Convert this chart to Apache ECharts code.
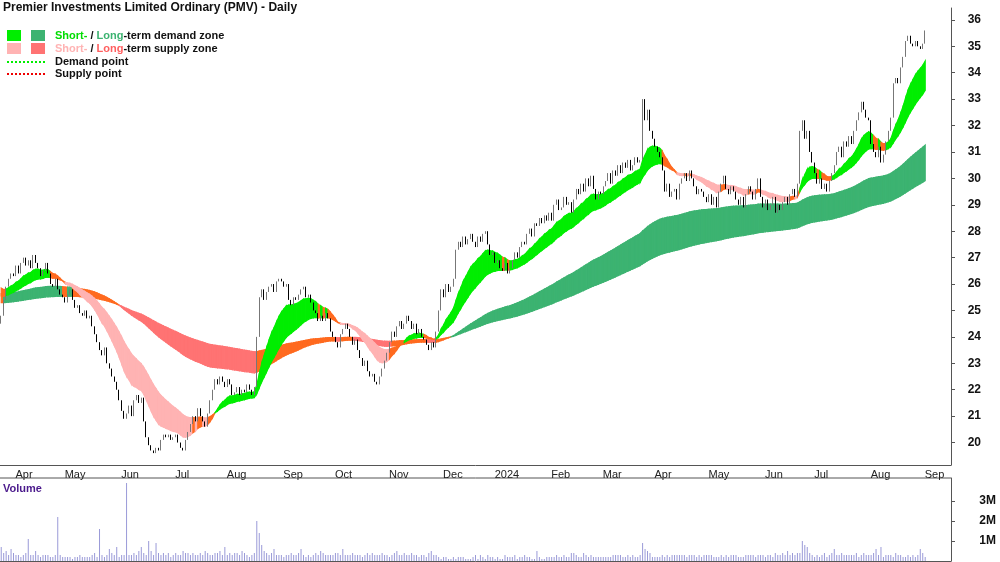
<!DOCTYPE html>
<html><head><meta charset="utf-8">
<script src="https://cdn.jsdelivr.net/npm/echarts@6/dist/echarts.min.js"></script>
<style>html,body{margin:0;padding:0;background:#fff}#c{width:1000px;height:562px}</style>
</head><body><div id="c"></div>
<script>
// Daily closes, month by month (Mar 27 2023 .. Sep 3 2024)
const closeMar23=[24.8,25.4,25.9,26.2,26.4];
const closeApr23=[26.3,26.7,26.4,26.8,27.0,26.7,26.9,26.6,27.1,26.8,26.6,26.3,26.5,26.8,26.4,26.0,25.9,26.2,25.8,25.6];
const closeMay23=[25.5,25.3,25.6,25.8,25.4,25.1,25.2,24.9,24.8,25.0,24.7,24.8,24.4,24.1,23.8,23.5,23.3,23.6,23.0,22.8,22.5,22.3,22.0];
const closeJun23=[21.6,21.2,20.9,21.1,21.4,21.0,21.6,21.8,21.5,21.7,20.8,20.2,19.9,19.7,19.6,19.8,19.7,20.1,20.3,20.2,20.3,20.1];
const closeJul23=[20.2,20.3,20.0,19.8,19.7,20.1,20.4,20.7,21.0,20.8,21.3,21.0,20.8,20.6,21.1,21.6,22.0,22.4,22.2,22.5,22.3];
const closeAug23=[22.1,22.4,22.2,21.8,21.9,22.1,21.8,22.0,21.9,22.2,22.0,21.8,22.1,24.0,25.5,25.8,25.4,25.7,25.9,26.0,25.7,26.1,26.2];
const closeSep23=[26.1,25.9,26.0,25.4,25.2,25.5,25.4,25.6,25.8,25.9,25.5,25.6,25.3,25.0,24.9,24.6,24.8,24.6,24.9,24.7,24.2];
const closeOct23=[24.0,23.8,23.6,24.1,24.3,24.5,24.3,24.0,23.7,23.9,23.5,23.2,22.9,23.1,22.7,22.5,22.6,22.3,22.2,22.5,22.8,23.1];
const closeNov23=[23.4,23.8,24.2,24.0,24.4,24.6,24.3,24.5,24.8,24.6,24.3,24.5,24.1,24.3,24.0,23.9,23.7,23.5,23.8,23.6,24.2,25.0];
const closeDec23=[25.8,25.5,26.0,25.7,25.9,26.2,27.3,27.6,27.4,27.8,27.5,27.7,27.9,27.6,27.4,27.8,27.6,27.9,28.0,27.5,27.1];
const closeJan24=[27.2,26.8,26.9,26.6,26.5,26.8,26.4,26.6,26.9,27.2,27.0,27.4,27.6,27.5,27.9,28.1,27.8,28.3,28.2,28.5,28.3,28.6,28.4];
const closeFeb24=[28.7,28.4,29.0,29.2,28.8,28.9,29.3,29.0,29.1,28.7,29.2,29.6,29.4,29.8,29.5,30.0,29.7,30.1,29.6,29.2,29.5];
const closeMar24=[29.4,29.7,29.9,30.2,29.8,30.3,30.1,30.5,30.2,30.6,30.4,30.7,30.3,30.5,30.8,30.6,30.7,33.0,32.2,32.6,31.8];
const closeApr24=[31.5,31.2,31.0,30.8,30.3,29.5,29.8,29.3,29.5,29.6,29.2,29.8,30.0,30.2,29.9,30.3,30.0,29.7,29.4,29.6,29.5,29.3];
const closeMay24=[29.1,29.4,29.0,29.3,28.9,29.5,29.8,30.1,29.6,29.4,29.7,29.5,29.2,29.0,29.3,28.9,29.4,29.7,29.5,29.2,29.6,30.0,29.3];
const closeJun24=[28.9,29.2,28.8,29.0,29.3,28.7,29.0,28.8,29.1,29.3,29.0,29.4,29.6,29.3,29.8,31.8,32.2,31.5,31.8,31.0];
const closeJul24=[30.6,30.2,29.8,30.0,29.6,29.8,29.5,29.9,30.2,30.5,31.0,31.2,30.8,31.4,31.2,31.6,31.3,31.8,32.2,32.5,32.9,32.6,32.3];
const closeAug24=[32.2,31.3,31.0,30.8,31.2,30.6,30.9,31.4,31.8,32.3,33.6,33.8,33.6,34.2,34.6,35.2,35.4,35.1,35.0,35.2,35.0,34.9];
const closeSep24=[35.1,35.6];
// Volume in units of 100,000 shares
const volume=[7,4,5,3,6,
4,3,3,2,3,4,11,3,3,5,3,2,3,3,3,2,2,3,22,3,
2,2,2,2,1,2,2,3,2,2,2,2,3,4,2,16,3,2,3,6,4,3,7,
2,3,3,39,3,3,4,3,5,7,4,3,10,5,3,9,4,3,4,3,4,2,
3,4,3,3,5,4,4,3,4,3,3,4,3,5,4,3,3,4,4,5,3,
7,3,4,3,4,4,3,5,4,3,2,3,4,20,14,8,5,4,3,4,6,3,3,
3,2,3,3,4,3,3,4,6,3,2,3,2,3,4,3,5,4,3,3,3,
3,4,4,3,6,3,3,3,4,3,3,3,2,3,4,3,4,3,3,3,4,3,
3,2,3,4,5,3,3,4,3,3,4,3,3,2,3,3,2,4,5,3,3,2,
1,2,2,1,1,2,1,2,2,2,1,1,1,2,3,1,3,2,1,3,2,
2,1,2,1,1,3,2,2,2,3,1,2,2,3,2,2,1,1,5,2,1,1,2,
2,2,2,3,2,2,3,2,2,4,4,3,2,2,4,3,2,3,2,2,2,
2,2,2,2,2,3,3,3,3,2,2,3,2,3,2,2,3,9,6,5,4,
2,2,2,2,3,2,3,2,3,3,3,3,3,3,2,3,3,3,2,3,2,3,
3,3,3,2,2,2,3,2,3,2,3,3,3,2,2,2,3,3,3,3,2,3,3,
3,2,3,3,2,4,3,3,4,3,5,3,4,3,4,4,10,8,7,4,
3,2,3,2,3,4,2,3,4,6,3,3,4,3,3,3,3,3,4,2,3,4,3,
3,3,4,6,3,7,2,3,3,3,2,4,3,3,2,2,3,2,3,2,3,6,
4,2];
const priceTicks=[20,21,22,23,24,25,26,27,28,29,30,31,32,33,34,35,36];
const volTicks=[1e6,2e6,3e6];
const monthNames=['Jan','Feb','Mar','Apr','May','Jun','Jul','Aug','Sep','Oct','Nov','Dec'];

const closes=[].concat(closeMar23,closeApr23,closeMay23,closeJun23,closeJul23,closeAug23,closeSep23,closeOct23,closeNov23,closeDec23,closeJan24,closeFeb24,closeMar24,closeApr24,closeMay24,closeJun24,closeJul24,closeAug24,closeSep24);
const N=closes.length;
const dates=[];const monthOf=[];const yearOf=[];
{let d=new Date(Date.UTC(2023,2,27));while(dates.length<N){const w=d.getUTCDay();if(w>0&&w<6){dates.push(d.toISOString().slice(0,10));monthOf.push(d.getUTCMonth());yearOf.push(d.getUTCFullYear());}d=new Date(d.getTime()+86400000);}}
const isMonthStart=i=>i>0&&monthOf[i]!==monthOf[i-1];
const ohlc=closes.map((c,i)=>{const o=i?closes[i-1]:c-0.3;return [o,c,Math.min(o,c),Math.max(o,c)];});
const vols=dates.map((_,i)=>(volume[i]||2)*1e5);
function ema(arr,n,seed){const k=2/(n+1);let e=seed;return arr.map(v=>(e=e+(v-e)*k));}
function band(fast,slow){
  const out=[];
  for(let i=0;i<N-1;i++){
    const lo=Math.min(fast[i],slow[i]),hi=Math.max(fast[i],slow[i]);
    const lo2=Math.min(fast[i+1],slow[i+1]),hi2=Math.max(fast[i+1],slow[i+1]);
    let st;
    if(fast[i]>=slow[i]) st=closes[i]>=lo?'d':'n'; else st=closes[i]<=hi?'s':'n';
    out.push([i,lo,hi,lo2,hi2,st]);
  }
  return out;
}
const sF=ema(closes,15,26.0),sS=ema(closes,32,25.6);
const lF=ema(closes,105,25.65),lS=ema(closes,190,25.3);
const shortBand=band(sF,sS),longBand=band(lF,lS);
const colors={short:{d:'#00ee00',s:'#ffb3b3',n:'#ff6a1f'},long:{d:'#3cb371',s:'#ff7373',n:'#ff6a1f'}};
function bandSeries(data,pal,z){
  return {type:'custom',xAxisIndex:0,yAxisIndex:0,data:data,encode:{x:0,y:[1,2]},silent:true,z:z,
    renderItem:(p,api)=>{
      const i=api.value(0);
      const a=api.coord([i,api.value(1)]),b=api.coord([i+1,api.value(3)]),c=api.coord([i+1,api.value(4)]),d=api.coord([i,api.value(2)]);
      const st=data[p.dataIndex][5];
      return {type:'polygon',shape:{points:[a,b,c,d]},style:{fill:pal[st],stroke:pal[st],lineWidth:1.2}};
    }};
}
const labelFn=(v,i)=>{const m=monthOf[i];return m===0?String(yearOf[i]):monthNames[m];};
const chart=echarts.init(document.getElementById('c'));
chart.setOption({
  animation:false,
  textStyle:{fontFamily:'Liberation Sans, Arial, sans-serif'},
  grid:[{left:0,right:49,top:8,bottom:97},{left:0,right:49,top:478,bottom:1}],
  xAxis:[
    {type:'category',data:dates,gridIndex:0,boundaryGap:true,max:N+9,
     axisLine:{lineStyle:{color:'#555'}},axisTick:{interval:(i)=>isMonthStart(i),length:4,lineStyle:{color:'#555'}},
     axisLabel:{interval:(i)=>isMonthStart(i),formatter:labelFn,align:'left',padding:[0,0,0,2],color:'#222',fontSize:11,margin:4},
     splitLine:{show:false}},
    {type:'category',data:dates,gridIndex:1,boundaryGap:true,max:N+9,axisLine:{lineStyle:{color:'#555'}},axisTick:{show:false},axisLabel:{show:false}}
  ],
  yAxis:[
    {type:'value',gridIndex:0,position:'right',min:19.15,max:36.45,splitLine:{show:false},
     axisLine:{show:true,lineStyle:{color:'#555'}},axisTick:{show:true,customValues:priceTicks,length:4,lineStyle:{color:'#555'}},
     axisLabel:{customValues:priceTicks,color:'#111',fontWeight:'bold',fontSize:12,margin:30,align:'right'}},
    {type:'value',gridIndex:1,position:'right',min:0,max:4.15e6,splitLine:{show:false},
     axisLine:{show:true,lineStyle:{color:'#555'}},axisTick:{show:true,customValues:volTicks,length:4,lineStyle:{color:'#555'}},
     axisLabel:{customValues:volTicks,formatter:v=>(v/1e6)+'M',color:'#111',fontWeight:'bold',fontSize:12,margin:45,align:'right'}}
  ],
  graphic:[
    {type:'line',shape:{x1:0,y1:478,x2:951,y2:478},style:{stroke:'#555',lineWidth:1}},
    {type:'text',left:3,top:2,style:{text:'Premier Investments Limited Ordinary (PMV) - Daily',font:'bold 12px Liberation Sans, Arial',fill:'#111'}},
    {type:'rect',shape:{x:7,y:30,width:14,height:11},style:{fill:'#00ee00'}},
    {type:'rect',shape:{x:31,y:30,width:14,height:11},style:{fill:'#3cb371'}},
    {type:'rect',shape:{x:7,y:43,width:14,height:11},style:{fill:'#ffb3b3'}},
    {type:'rect',shape:{x:31,y:43,width:14,height:11},style:{fill:'#ff7373'}},
    {type:'line',shape:{x1:7,y1:62,x2:45,y2:62},style:{stroke:'#00ee00',lineWidth:2,lineDash:[2,2]}},
    {type:'line',shape:{x1:7,y1:74,x2:45,y2:74},style:{stroke:'#ee0000',lineWidth:2,lineDash:[2,2]}},
    {type:'text',x:55,y:30,style:{text:'{g|Short-}{k| / }{dg|Long}{k|-term demand zone}',font:'bold 11px Liberation Sans, Arial',rich:{g:{fill:'#00dd00',font:'bold 11px Liberation Sans, Arial'},dg:{fill:'#3cb371',font:'bold 11px Liberation Sans, Arial'},k:{fill:'#111',font:'bold 11px Liberation Sans, Arial'}}}},
    {type:'text',x:55,y:43,style:{text:'{p|Short-}{k| / }{r|Long}{k|-term supply zone}',font:'bold 11px Liberation Sans, Arial',rich:{p:{fill:'#ffb3b3',font:'bold 11px Liberation Sans, Arial'},r:{fill:'#ff6060',font:'bold 11px Liberation Sans, Arial'},k:{fill:'#111',font:'bold 11px Liberation Sans, Arial'}}}},
    {type:'text',x:55,y:56,style:{text:'Demand point',font:'bold 11px Liberation Sans, Arial',fill:'#111'}},
    {type:'text',x:55,y:68,style:{text:'Supply point',font:'bold 11px Liberation Sans, Arial',fill:'#111'}},
    {type:'text',x:3,y:483,style:{text:'Volume',font:'bold 11px Liberation Sans, Arial',fill:'#4b1a8c'}}
  ],
  series:[
    bandSeries(longBand,colors.long,2),
    bandSeries(shortBand,colors.short,3),
    {type:'candlestick',xAxisIndex:0,yAxisIndex:0,data:ohlc,barMaxWidth:2,z:5,
     itemStyle:{color:'#ffffff',color0:'#000000',borderColor:'#777777',borderColor0:'#000000',borderWidth:1}},
    {type:'bar',xAxisIndex:1,yAxisIndex:1,data:vols,barWidth:1,itemStyle:{color:'#9a9ad8'}}
  ]
});
</script></body></html>
